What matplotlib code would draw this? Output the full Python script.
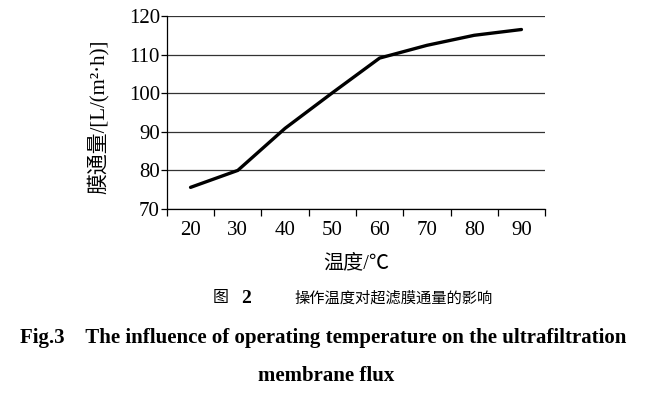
import matplotlib
matplotlib.use('Agg')
import matplotlib.pyplot as plt
import numpy as np

plt.rcParams['font.family'] = ['Liberation Serif', 'Noto Sans CJK SC', 'DejaVu Sans']

temps = ['20', '30', '40', '50', '60', '70', '80', '90']
flux = [75.6, 80.0, 90.9, 100.1, 109.1, 112.4, 115.0, 116.5]
yticks = [70, 80, 90, 100, 110, 120]

fig = plt.figure(figsize=(6.52, 3.97), dpi=100)
ax = fig.add_axes([0.256, 0.4736, 0.58, 0.4861])

x = np.arange(len(temps))
ax.plot(x, flux, color='black', lw=2.4, solid_capstyle='round', solid_joinstyle='round', zorder=3)

ax.set_xlim(-0.5, len(temps) - 0.5)
ax.set_ylim(70, 120)
ax.set_yticks(yticks)
ax.yaxis.grid(True, color='#333333', lw=0.9)
ax.set_axisbelow(True)

ax.set_xticks(x)
ax.set_xticklabels(temps)
ax.set_xticks(np.arange(len(temps) + 1) - 0.5, minor=True)
ax.tick_params(axis='x', which='major', length=0, pad=9, labelsize=15)
ax.tick_params(axis='x', which='minor', length=5, width=0.9, direction='out')
ax.tick_params(axis='y', length=4, width=0.9, pad=1, labelsize=15)

for s in ['top', 'right']:
    ax.spines[s].set_visible(False)
ax.spines['left'].set_linewidth(0.9)
ax.spines['bottom'].set_linewidth(0.9)

ax.set_xlabel('温度/℃', fontsize=14.5, labelpad=10)
fig.text(0.150, 0.705, '膜通量/[L/(m²·h)]', rotation=90, fontsize=15,
         ha='center', va='center')

fig.text(0.339, 0.249, '图', fontsize=11.5, ha='center', va='center')
fig.text(0.378, 0.249, '2', fontsize=14, fontweight='bold', ha='center', va='center')
fig.text(0.452, 0.249, '操作温度对超滤膜通量的影响', fontsize=11, ha='left', va='center')
fig.text(0.495, 0.148, 'Fig.3    The influence of operating temperature on the ultrafiltration',
         fontsize=15, fontweight='bold', ha='center', va='center')
fig.text(0.500, 0.053, 'membrane flux', fontsize=15, fontweight='bold',
         ha='center', va='center')

fig.savefig('out.png', dpi=100)
